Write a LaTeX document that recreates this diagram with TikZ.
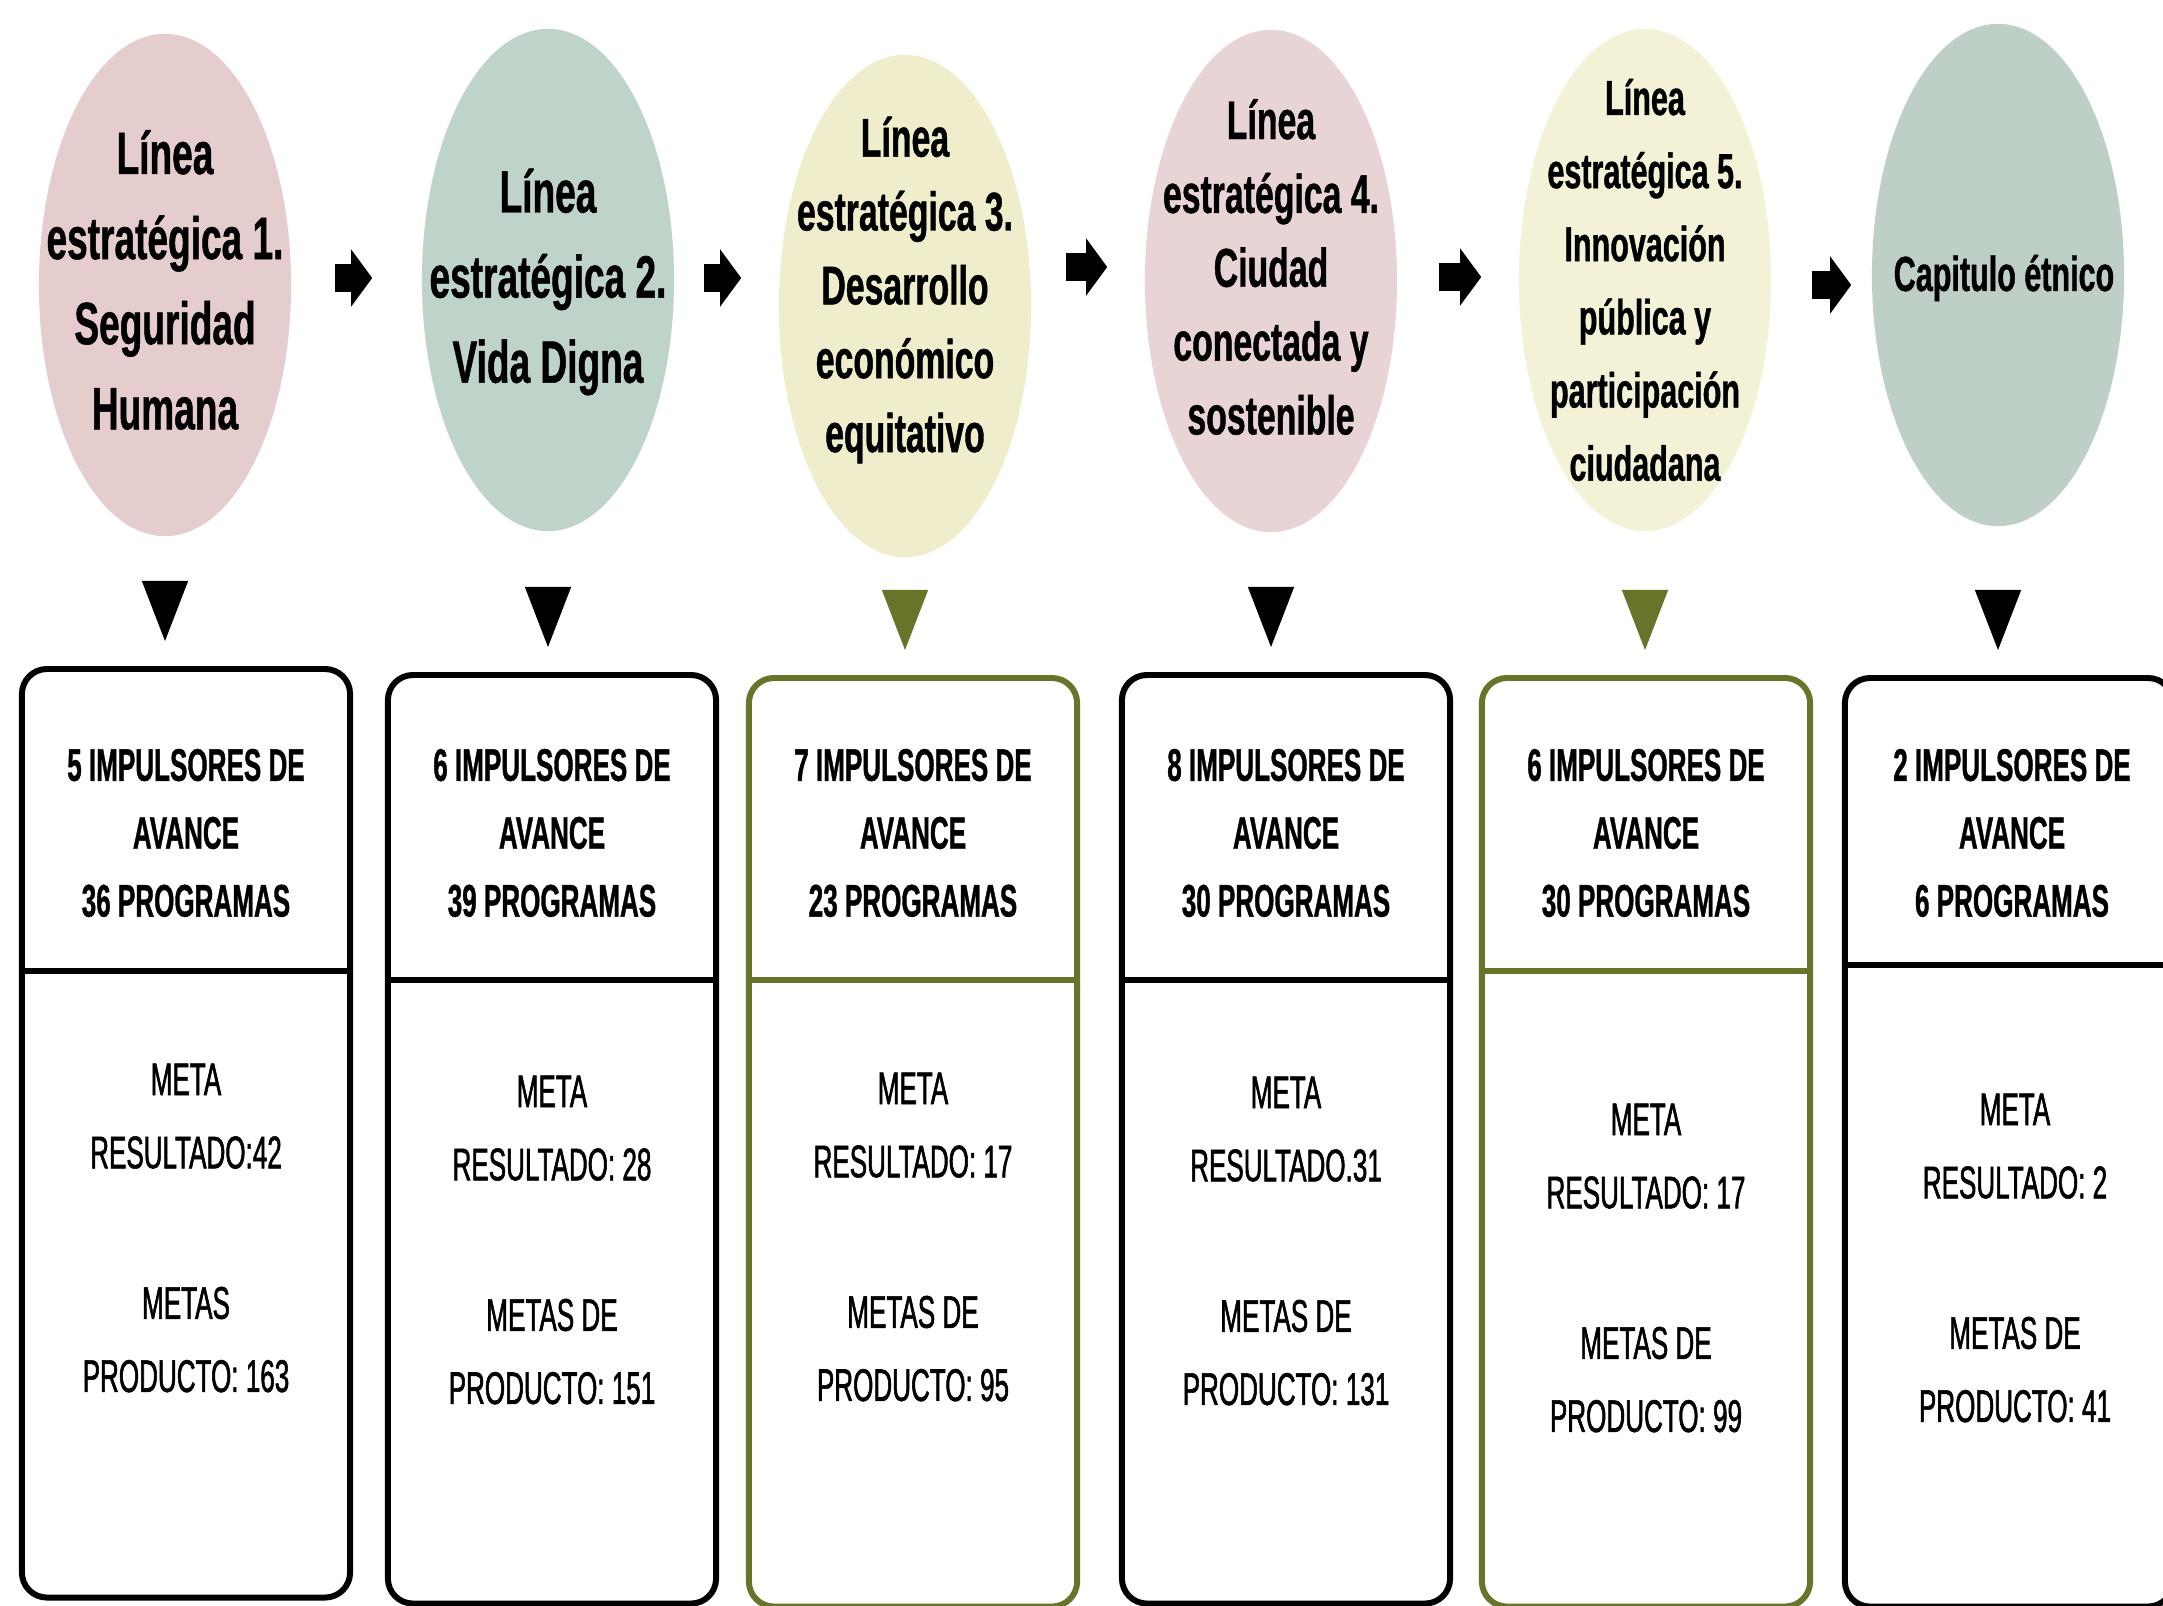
\documentclass[tikz,border=0pt]{standalone}
\usepackage{fontspec}
\usepackage{tikz}
\usetikzlibrary{shapes.geometric, arrows.meta, calc}
\newfontfamily\narrowfont[FakeStretch=0.62, BoldFeatures={FakeBold=0.8}]{Liberation Sans}
\newfontfamily\boxfont[FakeStretch=0.57, FakeBold=1.2, BoldFeatures={FakeBold=0.8}]{Liberation Sans}
\definecolor{rosa}{HTML}{E6CDCD}
\definecolor{verdegris}{HTML}{BFD4C9}
\definecolor{crema}{HTML}{EFEDCB}
\definecolor{rosaclaro}{HTML}{E8D4D4}
\definecolor{cremaclaro}{HTML}{F3F1D6}
\definecolor{salvia}{HTML}{BED0C5}
\definecolor{oliva}{HTML}{66752A}
\tikzset{
  linea/.style={ellipse, minimum width=2.52cm, minimum height=5.02cm, inner sep=0pt},
  lineatxt/.style={align=center, inner sep=0pt, font=\narrowfont\bfseries\fontsize{17}{24.2}\selectfont},
  lineachica/.style={lineatxt, font=\narrowfont\bfseries\fontsize{15.5}{21}\selectfont},
  flecha/.style={line width=0.28cm, -{Triangle[length=0.21cm, width=0.56cm]}},
  bajada/.style={line width=0.3pt, -{Triangle[length=0.6cm, width=0.46cm]}},
  caja/.style={draw, fill=white, line width=1.7pt, rounded corners=0.25cm, minimum width=3.28cm,
    minimum height=9.28cm, inner sep=0pt, outer sep=0pt, anchor=north},
  divisor/.style={line width=1.7pt},
  cabecera/.style={align=center, inner sep=0pt, font=\boxfont\bfseries\fontsize{13}{19.3}\selectfont},
  metatxt/.style={align=center, inner sep=0pt, font=\boxfont\fontsize{13}{20.8}\selectfont}
}
\begin{document}
\begin{tikzpicture}[x=0.01cm, y=-0.01cm]
  \useasboundingbox (0,0) rectangle (2163,1606);
  \fill[white] (0,0) rectangle (2163,1606);

  % lineas estrategicas
  \node[linea, fill=rosa] (c1) at (165,285) {};
  \node[linea, fill=verdegris] (c2) at (548,280) {};
  \node[linea, fill=crema] (c3) at (905,306) {};
  \node[linea, fill=rosaclaro] (c4) at (1271,281) {};
  \node[linea, fill=cremaclaro] (c5) at (1645,280) {};
  \node[linea, fill=salvia] (c6) at (1998,275) {};

  \node[lineatxt] (t1) at (165,280) {Línea\\estratégica 1.\\Seguridad\\Humana};
  \node[lineatxt] (t2) at (548,282) {Línea\\estratégica 2.\\Vida Digna};
  \node[lineachica] (t3) at (905,290) {Línea\\estratégica 3.\\Desarrollo\\económico\\equitativo};
  \node[lineachica] (t4) at (1271,267) {Línea\\estratégica 4.\\Ciudad\\conectada y\\sostenible};
  \node[lineatxt, font=\narrowfont\bfseries\fontsize{14}{20.8}\selectfont] (t5) at (1645,280)
    {Línea\\estratégica 5.\\Innovación\\pública y\\participación\\ciudadana};
  \node[lineatxt, font=\narrowfont\bfseries\fontsize{14}{20}\selectfont] (t6) at (2004,278) {Capitulo étnico};

  \foreach \i/\j/\sa/\sb/\dy in {1/2/43/49/-7, 2/3/29/37/-2, 3/4/34/37/-39, 4/5/41/37/-4, 5/6/40/20/5}
    \draw[flecha] ($(c\i.east)+(\sa,\dy)$) -- ($(c\i.east -| c\j.west)+(-\sb,\dy)$);

  % cajas
  \foreach \i/\x/\top/\col/\dv in {1/186/669/black/302, 2/552/675/black/305, 3/913/678/oliva/302,
                                  4/1286/675/black/305, 5/1646/678/oliva/293, 6/2009/678/black/287} {
    \node[caja, draw=\col] (b\i) at (\x,\top) {};
    \draw[divisor, \col] ($(b\i.north west)+(0,\dv)$) -- ($(b\i.north east)+(0,\dv)$);
    \draw[bajada, \col] ($(c\i.south |- b\i.north)+(0,-88)$) -- ($(c\i.south |- b\i.north)+(0,-28)$);
  }

  \foreach \i/\x/\imp/\prog in {1/186/5/36, 2/552/6/39, 3/913/7/23, 4/1286/8/30, 5/1646/6/30, 6/2012/2/6}
    \node[cabecera] (h\i) at (\x,833) {\imp{} IMPULSORES DE\\AVANCE\\\prog{} PROGRAMAS};

  \node[metatxt] (m1) at (186,1228) {META\\RESULTADO:42\\[22pt]METAS\\PRODUCTO: 163};
  \node[metatxt] (m2) at (552,1240) {META\\RESULTADO: 28\\[22pt]METAS DE\\PRODUCTO: 151};
  \node[metatxt] (m3) at (913,1237) {META\\RESULTADO: 17\\[22pt]METAS DE\\PRODUCTO: 95};
  \node[metatxt] (m4) at (1286,1241) {META\\RESULTADO.31\\[22pt]METAS DE\\PRODUCTO: 131};
  \node[metatxt] (m5) at (1646,1268) {META\\RESULTADO: 17\\[22pt]METAS DE\\PRODUCTO: 99};
  \node[metatxt] (m6) at (2015,1258) {META\\RESULTADO: 2\\[22pt]METAS DE\\PRODUCTO: 41};
\end{tikzpicture}
\end{document}
